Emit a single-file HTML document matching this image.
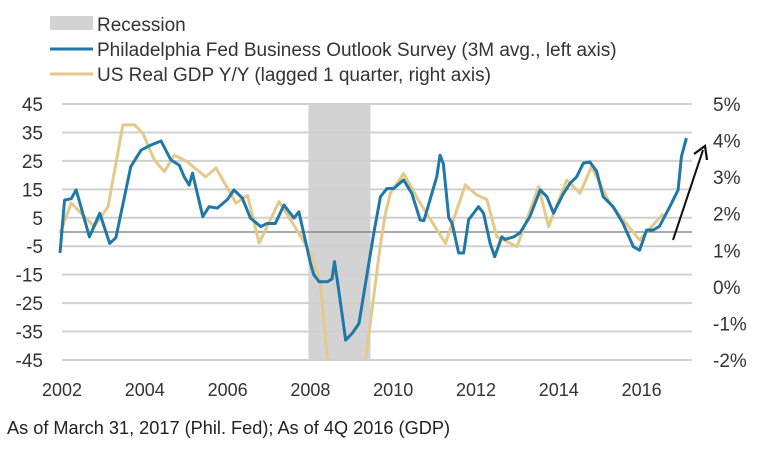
<!DOCTYPE html>
<html><head><meta charset="utf-8"><style>
html,body{margin:0;padding:0;background:#fff;}
svg{display:block;font-family:"Liberation Sans",sans-serif;}
</style></head><body>
<svg id="chart" width="782" height="449">
<g>
<rect x="50" y="16" width="43" height="14" fill="#d3d3d3"/>
<text x="97" y="31" font-size="19" fill="#333">Recession</text>
<line x1="50" y1="49" x2="93" y2="49" stroke="#1f78a8" stroke-width="3"/>
<text x="97" y="56" font-size="19" fill="#333">Philadelphia Fed Business Outlook Survey (3M avg., left axis)</text>
<line x1="50" y1="74" x2="93" y2="74" stroke="#e3c98a" stroke-width="3"/>
<text x="97" y="81" font-size="19" fill="#333">US Real GDP Y/Y (lagged 1 quarter, right axis)</text>
</g>
<g id="grid"></g>
<g id="marks"></g>
<text x="7" y="434" font-size="18" fill="#222" textLength="443" lengthAdjust="spacingAndGlyphs">As of March 31, 2017 (Phil. Fed); As of 4Q 2016 (GDP)</text>
</svg>
<script>
const leftTicks=[45,35,25,15,5,-5,-15,-25,-35,-45];
const rightTicks=["5%","4%","3%","2%","1%","0%","-1%","-2%"];
const rightTickValues=[5,4,3,2,1,0,-1,-2];
const xTicks=[2002,2004,2006,2008,2010,2012,2014,2016];
const recession=[2008.0,2009.5];
const phillyYears=[2002.0,2002.11,2002.27,2002.39,2002.71,2002.96,2003.2,2003.35,2003.71,2003.96,2004.2,2004.44,2004.68,2004.88,2005.0,2005.12,2005.2,2005.45,2005.6,2005.8,2006.05,2006.2,2006.4,2006.6,2006.85,2007.0,2007.2,2007.41,2007.65,2007.77,2008.05,2008.13,2008.26,2008.46,2008.57,2008.63,2008.72,2008.9,2009.06,2009.22,2009.42,2009.58,2009.74,2009.9,2010.06,2010.3,2010.5,2010.7,2010.79,2011.1,2011.18,2011.26,2011.39,2011.47,2011.63,2011.75,2011.87,2012.11,2012.23,2012.39,2012.5,2012.67,2012.75,2012.96,2013.11,2013.35,2013.6,2013.76,2013.92,2014.16,2014.32,2014.48,2014.64,2014.8,2014.96,2015.12,2015.36,2015.6,2015.85,2016.0,2016.17,2016.33,2016.48,2016.73,2016.93,2017.01,2017.13];
const phillyValues=[-7.4,11.2,11.7,14.8,-1.7,6.6,-4,-2,23,28.8,30.6,32,25.3,23.5,19.4,16.5,20.7,5.4,8.9,8.4,11.5,14.8,12,4.9,1.9,3,3,9.5,4.9,7.1,-11,-15,-17.5,-17.5,-16.5,-10.4,-19.2,-38,-35.6,-32.2,-14.5,-0.3,12.4,15.3,15.3,18.3,13.5,4.2,4,19.4,27,24,5,3.1,-7.4,-7.4,4.3,8.9,6.6,-4,-8.7,-1.7,-2.6,-1.7,-0.3,5.4,14.8,12.4,6.6,13.5,17.1,19.4,24.2,24.6,21.4,12.4,8.9,3,-5.2,-6.4,0.7,0.7,2,8.9,14.8,26.5,33];
const gdpYears=[2002.0,2002.27,2002.83,2003.16,2003.52,2003.8,2004.0,2004.28,2004.52,2004.76,2005.08,2005.2,2005.52,2005.77,2006.25,2006.53,2006.81,2007.29,2007.77,2008.1,2008.3,2008.46,2008.7,2009.0,2009.3,2009.45,2009.72,2009.85,2009.98,2010.3,2010.7,2011.31,2011.79,2012.07,2012.31,2012.55,2013.04,2013.56,2013.8,2014.24,2014.56,2014.84,2015.28,2016.0,2016.57];
const gdpValues=[1.46,2.29,1.65,2.19,4.43,4.43,4.2,3.47,3.15,3.6,3.42,3.3,3.01,3.25,2.29,2.5,1.2,2.33,1.47,0.83,0.0,-2,-3.2,-3.6,-2.8,-1.4,1.0,1.95,2.56,3.1,2.29,1.19,2.79,2.51,2.39,1.37,1.1,2.74,1.65,2.92,2.56,3.29,2.29,1.28,2.0];

const NS="http://www.w3.org/2000/svg";
const X0=62,X1=692,Y0=104,Y1=360;
const xs=y=>60+(y-2002)*41.4;
const yl=v=>Y0+(45-v)*(Y1-Y0)/90;
const yr=v=>Y0+(5-v)*(Y1-Y0)/7;
const svg=document.getElementById('chart');
const grid=document.getElementById('grid');
const marks=document.getElementById('marks');
function mk(tag,attrs,parent){const e=document.createElementNS(NS,tag);for(const k in attrs)e.setAttribute(k,attrs[k]);parent.appendChild(e);return e;}

const defs=mk('defs',{},svg);
const cp=mk('clipPath',{id:'plotclip'},defs);
mk('rect',{x:X0-4,y:Y0-10,width:X1-X0+6,height:Y1-Y0+10},cp);

const rec=mk('rect',{x:xs(recession[0]),y:Y0,width:xs(recession[1])-xs(recession[0]),height:Y1-Y0,fill:'#d3d3d3'},grid);



leftTicks.forEach(v=>{
  const l=mk('line',{x1:X0,x2:X1,y1:yl(v),y2:yl(v),stroke:'#d0d0d0','stroke-width':2},grid);
  
  
  const t=mk('text',{x:43,y:yl(v)+7,'font-size':19,fill:'#333','text-anchor':'end'},svg);
  t.textContent=v;
  
  
});
const zl=mk('line',{x1:X0,x2:X1,y1:yl(0),y2:yl(0),stroke:'#777','stroke-width':1.3},grid);



rightTicks.forEach((s,i)=>{
  const t=mk('text',{x:713,y:yr(rightTickValues[i])+7,'font-size':19,fill:'#333'},svg);
  t.textContent=s;
  
  
});
xTicks.forEach(y=>{
  const t=mk('text',{x:xs(y)+2,y:396,'font-size':18,fill:'#333','text-anchor':'middle'},svg);
  t.textContent=y;
  
  
});

const g=mk('g',{'clip-path':'url(#plotclip)'},marks);
const gp=mk('polyline',{points:gdpYears.map((y,i)=>xs(y)+','+yr(gdpValues[i])).join(' '),fill:'none',stroke:'#e3c98a','stroke-width':3,'stroke-linejoin':'round'},g);


const pp=mk('polyline',{points:phillyYears.map((y,i)=>xs(y)+','+yl(phillyValues[i])).join(' '),fill:'none',stroke:'#1f78a8','stroke-width':3,'stroke-linejoin':'round'},g);



const ar=mk('g',{},svg);


mk('line',{x1:673,y1:240,x2:703,y2:150,stroke:'#111','stroke-width':2},ar);
mk('polyline',{points:'694,154 705,146 707,160',fill:'none',stroke:'#111','stroke-width':2.2},ar);
</script>
</body></html>
